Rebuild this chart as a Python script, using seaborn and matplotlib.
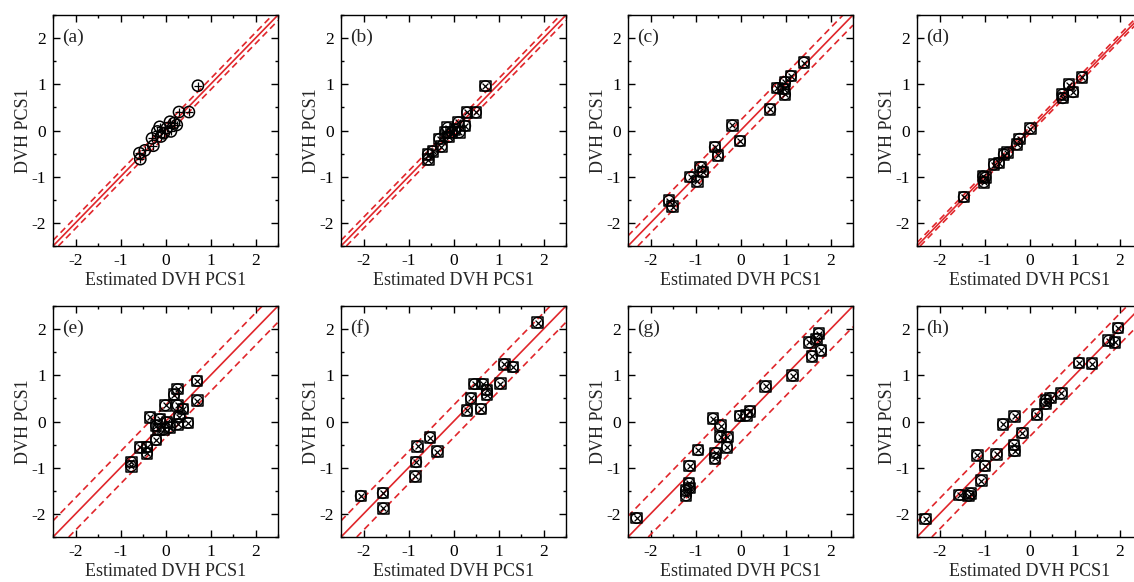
import matplotlib
matplotlib.use("Agg")
import matplotlib.pyplot as plt
import seaborn as sns
import pandas as pd
from matplotlib.ticker import MultipleLocator

# ------------------- values -------------------
est_a = [0.72, 0.30, 0.52, 0.25, 0.10, -0.13, -0.18, -0.04, 0.12, -0.30, -0.10, -0.27, -0.46, -0.58, -0.56, 0.03, 0.19]
dvh_a = [0.97, 0.40, 0.40, 0.12, 0.19, 0.08, -0.02, -0.06, -0.02, -0.17, -0.13, -0.33, -0.43, -0.49, -0.62, 0.05, 0.16]

est_b = [0.71, 0.30, 0.50, 0.26, 0.11, -0.13, -0.18, -0.04, 0.13, -0.31, -0.11, -0.27, -0.46, -0.57, -0.56, 0.03]
dvh_b = [0.96, 0.39, 0.39, 0.10, 0.18, 0.06, -0.04, -0.04, -0.04, -0.18, -0.14, -0.35, -0.45, -0.52, -0.63, 0.02]

est_c = [1.41, 1.12, 0.99, 0.82, 0.96, 0.99, 0.66, -0.18, -0.01, -0.57, -0.50, -0.89, -0.83, -1.11, -0.96, -1.59, -1.51]
dvh_c = [1.47, 1.18, 1.05, 0.92, 0.90, 0.78, 0.46, 0.11, -0.23, -0.36, -0.54, -0.79, -0.90, -1.01, -1.10, -1.52, -1.65]

est_d = [1.17, 0.88, 0.97, 0.73, 0.74, 0.02, -0.22, -0.28, -0.49, -0.57, -0.68, -0.79, -1.03, -1.01, -1.46, -0.98]
dvh_d = [1.15, 0.99, 0.83, 0.78, 0.70, 0.04, -0.18, -0.30, -0.48, -0.52, -0.70, -0.74, -0.99, -1.12, -1.44, -1.02]

est_e = [0.70, 0.71, 0.27, 0.19, 0.00, 0.27, 0.39, 0.31, -0.34, -0.12, -0.21, -0.04, 0.10, 0.27, 0.50,
         -0.21, -0.56, -0.41, -0.41, -0.76, -0.76, -0.16, 0.03]
dvh_e = [0.88, 0.45, 0.70, 0.58, 0.35, 0.35, 0.27, 0.10, 0.09, 0.05, -0.09, -0.17, -0.13, -0.06, -0.03,
         -0.40, -0.56, -0.55, -0.69, -0.88, -0.97, -0.17, -0.02]

est_f = [1.87, 1.13, 1.32, 1.04, 0.47, 0.65, 0.74, 0.74, 0.39, 0.30, 0.61, -0.52, -0.80, -0.36, -0.83, -0.85, -1.57, -2.06, -1.56]
dvh_f = [2.14, 1.24, 1.18, 0.82, 0.81, 0.81, 0.68, 0.58, 0.50, 0.24, 0.27, -0.35, -0.54, -0.65, -0.88, -1.19, -1.55, -1.61, -1.88]

est_g = [1.74, 1.69, 1.53, 1.79, 1.59, 1.16, 0.56, 0.21, 0.13, -0.01, -0.61, -0.44, -0.44, -0.29, -0.30, -0.55,
         -0.57, -0.94, -1.13, -1.14, -1.13, -1.21, -1.21, -2.31]
dvh_g = [1.90, 1.79, 1.71, 1.54, 1.41, 0.99, 0.76, 0.22, 0.13, 0.12, 0.06, -0.09, -0.34, -0.34, -0.56, -0.68,
         -0.80, -0.62, -0.96, -1.34, -1.44, -1.49, -1.60, -2.09]

est_h = [1.97, 1.76, 1.90, 1.10, 1.39, 0.71, 0.47, 0.37, 0.36, 0.17, -0.33, -0.59, -0.16, -0.34, -0.33, -1.16,
         -0.73, -0.99, -1.07, -1.55, -1.35, -1.30, -2.31]
dvh_h = [2.02, 1.75, 1.71, 1.27, 1.25, 0.61, 0.51, 0.46, 0.38, 0.15, 0.11, -0.06, -0.25, -0.51, -0.64, -0.73,
         -0.71, -0.96, -1.28, -1.59, -1.61, -1.56, -2.11]

panel_labels = ["(a)", "(b)", "(c)", "(d)", "(e)", "(f)", "(g)", "(h)"]
band_half_width = [0.12, 0.12, 0.22, 0.07, 0.35, 0.35, 0.45, 0.33]

estimated = [est_a, est_b, est_c, est_d, est_e, est_f, est_g, est_h]
observed = [dvh_a, dvh_b, dvh_c, dvh_d, dvh_e, dvh_f, dvh_g, dvh_h]

sns.set_theme(style="ticks")
plt.rcParams['font.family'] = ['Liberation Serif', 'DejaVu Serif']
plt.rcParams['axes.unicode_minus'] = False

red = "#e0262b"
W, H = 1134, 582
lefts = [53, 341, 628, 917]
bottoms = [246, 537]

fig = plt.figure(figsize=(W / 100, H / 100), dpi=100)

for i in range(8):
    row, col = divmod(i, 4)
    ax = fig.add_axes([lefts[col] / W, (H - bottoms[row]) / H, 225 / W, 231 / H])
    df = pd.DataFrame({'est': estimated[i], 'dvh': observed[i]})

    # identity line and tolerance band
    d = band_half_width[i]
    ax.axline((0, 0), slope=1, color=red, lw=1.2, zorder=1)
    ax.axline((0, d), slope=1, color=red, lw=1.2, ls=(0, (4, 2.5)), zorder=1)
    ax.axline((0, -d), slope=1, color=red, lw=1.2, ls=(0, (4, 2.5)), zorder=1)

    # composite markers: circle + cross (+ square except panel a)
    if i == 0:
        sns.scatterplot(data=df, x='est', y='dvh', marker='o', s=65, facecolor='none',
                        edgecolor='black', linewidth=1.1, ax=ax, zorder=3)
        sns.scatterplot(data=df, x='est', y='dvh', marker='+', s=40, color='black',
                        linewidth=0.9, ax=ax, zorder=3)
    else:
        sns.scatterplot(data=df, x='est', y='dvh', marker='s', s=58, facecolor='none',
                        edgecolor='black', linewidth=1.1, ax=ax, zorder=3)
        sns.scatterplot(data=df, x='est', y='dvh', marker='o', s=58, facecolor='none',
                        edgecolor='black', linewidth=1.0, ax=ax, zorder=3)
        sns.scatterplot(data=df, x='est', y='dvh', marker='x', s=18, color='black',
                        linewidth=0.9, ax=ax, zorder=3)

    ax.set_xlim(-2.5, 2.5)
    ax.set_ylim(-2.5, 2.5)
    ax.xaxis.set_major_locator(MultipleLocator(1))
    ax.yaxis.set_major_locator(MultipleLocator(1))
    ax.xaxis.set_minor_locator(MultipleLocator(0.5))
    ax.yaxis.set_minor_locator(MultipleLocator(0.5))
    ax.tick_params(which='both', direction='in', top=True, right=True, width=1.0,
                   colors='black', labelsize=12.5, pad=5)
    ax.tick_params(which='major', length=5)
    ax.tick_params(which='minor', length=2.5)
    for sp in ax.spines.values():
        sp.set_linewidth(1.0)
        sp.set_color('black')

    ax.set_xlabel('Estimated DVH PCS1', fontsize=13, labelpad=2)
    ax.set_ylabel('DVH PCS1', fontsize=13, labelpad=0)
    ax.text(0.04, 0.905, panel_labels[i], transform=ax.transAxes, fontsize=14,
            va='center', ha='left')

fig.savefig('out.png', dpi=100)
